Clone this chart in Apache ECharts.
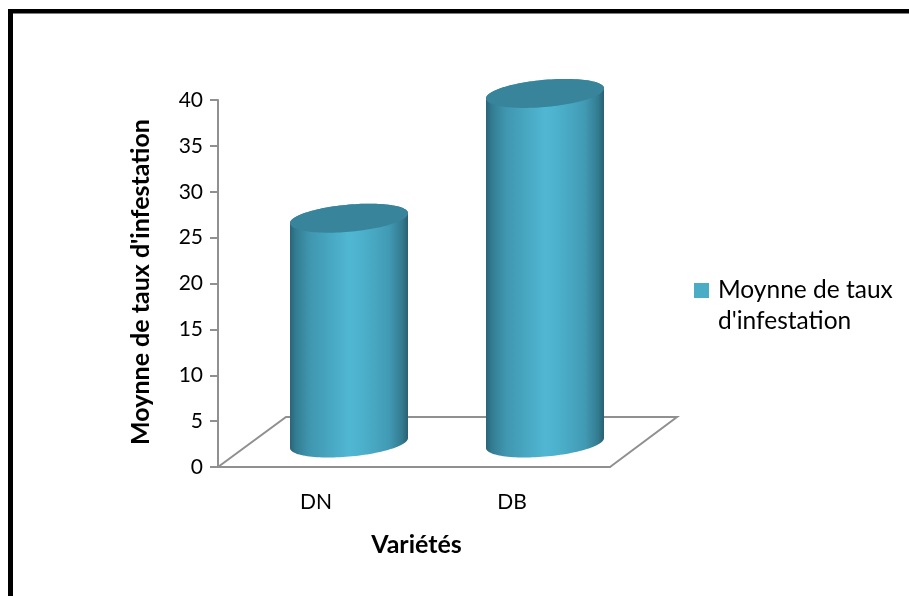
<!DOCTYPE html>
<html>
<head>
<meta charset="utf-8">
<style>html,body{margin:0;padding:0;background:#fff}#c{width:909px;height:596px}</style>
<script src="https://cdn.jsdelivr.net/npm/echarts@6/dist/echarts.min.js"></script>
</head>
<body>
<div id="c"></div>
<script>
const categories = ['DN', 'DB'];
const seriesName = "Moynne de taux d'infestation";
const legendLines = ['', 'Moynne de taux', "d'infestation"];
const xAxisTitle = 'Variétés';
const infestation = [24.5, 38.1];
const yTickInterval = 5;
const yMax = 40;

const font = 'Lato, "Open Sans", sans-serif';
const axisGrey = '#909090';
const chart = echarts.init(document.getElementById('c'));

const depthX = 33, depthY = -24;
const halfW = 59, tiltY = -5, ryTop = 13.6;

function ellipsePoint(cx, cy, t) {
  return [cx + halfW * Math.cos(t), cy + tiltY * Math.cos(t) + ryTop * Math.sin(t)];
}
function renderCylinder(params, api) {
  const base = api.coord([api.value(0), 0]);
  const top = api.coord([api.value(0), api.value(1)]);
  const cx = base[0] + depthX;
  const by = base[1] + depthY;
  const ty = top[1] + depthY;
  const body = [];
  const n = 60;
  for (let i = 0; i <= n; i++) body.push(ellipsePoint(cx, by, Math.PI - Math.PI * i / n));
  for (let i = 0; i <= n; i++) body.push(ellipsePoint(cx, ty, Math.PI * i / n * -1));
  const cap = [];
  for (let i = 0; i < 120; i++) cap.push(ellipsePoint(cx, ty, 2 * Math.PI * i / 120));
  return {
    type: 'group',
    children: [
      { type: 'polygon', shape: { points: body }, style: {
        fill: new echarts.graphic.LinearGradient(0, 0, 1, 0, [
          { offset: 0, color: '#2a6579' },
          { offset: 0.05, color: '#337c92' },
          { offset: 0.16, color: '#3f95ae' },
          { offset: 0.38, color: '#4aabc6' },
          { offset: 0.5, color: '#50b7d3' },
          { offset: 0.62, color: '#4cb0cb' },
          { offset: 0.84, color: '#419ab4' },
          { offset: 0.95, color: '#337b90' },
          { offset: 1, color: '#295f72' }
        ])
      } },
      { type: 'polygon', shape: { points: cap }, style: { fill: '#38849b' } }
    ]
  };
}
function renderFloor(params) {
  const g = params.coordSys;
  const x0 = g.x, y0 = g.y + g.height, x1 = g.x + g.width;
  const dx = 68, dy = -50, ex = 67;
  return {
    type: 'polyline',
    shape: { points: [[x0, y0], [x0 + dx, y0 + dy], [x1 + ex, y0 + dy], [x1, y0]] },
    style: { stroke: axisGrey, lineWidth: 2, fill: null }
  };
}

chart.setOption({
  animation: false,
  backgroundColor: '#ffffff',
  textStyle: { fontFamily: font, color: '#000' },
  grid: { left: 218, right: 299, top: 100, bottom: 129 },
  graphic: [
    { type: 'rect', shape: { x: 8, y: 9, width: 901, height: 4.5 }, style: { fill: '#000' } },
    { type: 'rect', shape: { x: 8, y: 9, width: 5, height: 587 }, style: { fill: '#000' } }
  ],
  legend: {
    data: [seriesName],
    left: 694,
    top: 244,
    itemWidth: 15,
    itemHeight: 15,
    itemGap: 0,
    icon: 'rect',
    padding: 0,
    formatter: () => legendLines.join('\n'),
    textStyle: { fontFamily: font, fontSize: 24.5, lineHeight: 31, color: '#000', padding: [0, 0, 0, 4] }
  },
  xAxis: {
    type: 'category',
    data: categories,
    name: xAxisTitle,
    nameLocation: 'middle',
    nameGap: 65,
    nameTextStyle: { fontFamily: font, fontSize: 25, fontWeight: 'bold', color: '#000', padding: [0, 0, 0, 5] },
    axisLine: { lineStyle: { color: axisGrey, width: 2 } },
    axisTick: { show: false },
    axisLabel: { fontFamily: font, fontSize: 21, color: '#000', margin: 25 },
    splitLine: { show: false }
  },
  yAxis: {
    type: 'value',
    min: 0,
    max: yMax,
    interval: yTickInterval,
    name: seriesName,
    nameLocation: 'middle',
    nameGap: 65,
    nameTextStyle: { fontFamily: font, fontSize: 25, fontWeight: 'bold', color: '#000', padding: [0, 0, 0, 3] },
    axisLine: { show: true, lineStyle: { color: axisGrey, width: 2 } },
    axisTick: { show: true, length: 8, lineStyle: { color: axisGrey, width: 2 } },
    axisLabel: { fontFamily: font, fontSize: 21, color: '#000', margin: 15 },
    splitLine: { show: false }
  },
  series: [
    { type: 'custom', name: 'floor', silent: true, z: 1, renderItem: renderFloor, data: [[0, 0]], encode: { x: 0, y: 1 } },
    {
      type: 'custom',
      name: seriesName,
      z: 2,
      renderItem: renderCylinder,
      itemStyle: { color: '#4bacc6' },
      encode: { x: 0, y: 1 },
      data: infestation.map((v, i) => [i, v])
    }
  ]
});
</script>
</body>
</html>
